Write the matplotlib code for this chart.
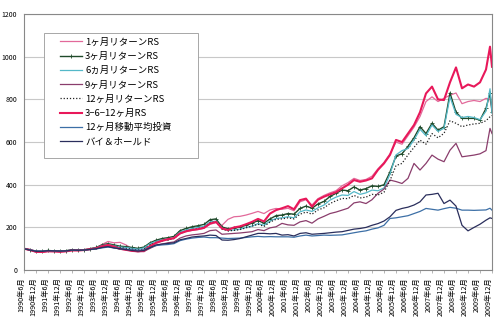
import matplotlib
matplotlib.use('Agg')
import matplotlib.pyplot as plt
import matplotlib.transforms as mtransforms
from matplotlib.patches import Rectangle

plt.rcParams['font.family'] = ['Noto Sans CJK JP', 'DejaVu Sans']

# quarterly observation dates (plus two late points)
dates = ['%d-%02d' % (y, m) for y in range(1990, 2010) for m in (3, 6, 9, 12)]
dates = [d for d in dates if '1990-06' <= d <= '2009-09'] + ['2009-11', '2009-12']

ret1 = [100, 92, 84, 83, 88, 86, 85, 88, 94, 92, 93, 98,
        104, 120, 134, 128, 130, 118, 100, 88, 86, 108, 125, 135,
        142, 148, 170, 180, 186, 190, 196, 215, 222, 210, 238, 250,
        252, 258, 266, 275, 265, 282, 289, 285, 290, 278, 320, 330,
        305, 335, 350, 362, 372, 395, 410, 430, 420, 425, 440, 475,
        505, 545, 600, 590, 630, 670, 720, 790, 812, 790, 805, 820,
        830, 780, 790, 795, 790, 805, 800, 758]
ret3 = [102, 95, 88, 88, 92, 90, 90, 91, 95, 94, 95, 100,
        106, 118, 124, 118, 112, 110, 106, 102, 108, 128, 140, 148,
        152, 158, 185, 195, 203, 208, 214, 236, 240, 202, 194, 196,
        202, 210, 220, 232, 220, 240, 255, 258, 265, 262, 289, 300,
        290, 310, 322, 345, 360, 375, 372, 390, 375, 382, 395, 392,
        400, 460, 535, 545, 580, 620, 672, 640, 688, 656, 672, 830,
        740, 711, 711, 711, 703, 758, 830, 742]
ret6 = [101, 94, 87, 87, 91, 89, 89, 90, 94, 93, 94, 99,
        104, 115, 120, 114, 108, 106, 102, 98, 104, 124, 135, 142,
        146, 152, 178, 188, 195, 200, 205, 226, 230, 196, 186, 188,
        192, 200, 206, 218, 210, 230, 242, 245, 250, 245, 273, 282,
        275, 292, 305, 328, 342, 352, 350, 368, 355, 362, 375, 372,
        385, 450, 540, 560, 570, 610, 660, 630, 680, 650, 665, 812,
        730, 715, 720, 715, 705, 745, 850, 735]
ret9 = [100, 94, 86, 85, 89, 88, 87, 89, 93, 92, 93, 97,
        100, 108, 112, 105, 98, 95, 90, 86, 88, 102, 115, 122,
        128, 132, 150, 160, 165, 168, 172, 185, 188, 168, 170, 172,
        174, 177, 180, 190, 185, 198, 203, 219, 212, 210, 226, 232,
        220, 240, 252, 265, 272, 281, 290, 315, 320, 312, 330, 360,
        380, 422, 415, 406, 430, 500, 469, 500, 539, 520, 508, 562,
        594, 531, 535, 539, 545, 560, 664, 640]
ret12 = [101, 94, 87, 87, 90, 89, 88, 90, 94, 93, 94, 98,
         102, 112, 118, 112, 105, 102, 98, 94, 98, 118, 130, 138,
         142, 148, 172, 182, 190, 195, 200, 222, 226, 192, 184, 186,
         190, 198, 206, 215, 205, 225, 238, 240, 245, 240, 262, 272,
         262, 282, 292, 312, 325, 336, 335, 350, 338, 342, 355, 352,
         365, 420, 490, 500, 540, 575, 609, 590, 640, 620, 641, 700,
         688, 672, 680, 685, 688, 700, 719, 725]
rs3612 = [100, 95, 86, 85, 88, 88, 86, 88, 92, 92, 94, 98,
          102, 112, 118, 110, 100, 95, 90, 88, 92, 112, 128, 138,
          145, 150, 172, 182, 188, 192, 198, 218, 226, 195, 188, 200,
          205, 215, 226, 240, 228, 265, 281, 290, 300, 285, 328, 335,
          297, 330, 344, 355, 365, 383, 400, 422, 414, 420, 430, 470,
          500, 540, 610, 600, 640, 680, 740, 828, 860, 800, 797, 880,
          950, 852, 870, 860, 880, 940, 1047, 953]
ma12 = [100, 95, 90, 89, 91, 90, 89, 90, 93, 93, 94, 96,
        99, 104, 108, 104, 100, 98, 95, 93, 95, 106, 115, 118,
        120, 124, 138, 145, 150, 153, 155, 152, 152, 150, 148, 149,
        150, 153, 156, 158, 156, 157, 156, 156, 156, 154, 160, 164,
        160, 162, 164, 163, 164, 165, 170, 175, 180, 184, 192, 198,
        210, 242, 245, 250, 255, 265, 275, 289, 285, 281, 288, 294,
        290, 281, 281, 280, 281, 282, 290, 281]
buyhold = [100, 94, 88, 88, 91, 90, 89, 90, 94, 93, 94, 97,
           100, 106, 110, 104, 100, 96, 92, 89, 92, 105, 118, 122,
           125, 128, 142, 148, 155, 158, 160, 164, 162, 141, 140, 143,
           148, 156, 164, 172, 172, 170, 172, 164, 166, 160, 172, 175,
           168, 170, 172, 175, 178, 180, 186, 192, 195, 200, 210, 218,
           230, 250, 280, 289, 295, 305, 320, 352, 355, 360, 312, 328,
           300, 210, 184, 200, 215, 234, 245, 242]

tick_labels = ['%d年%d月' % (y, m) for y in range(1990, 2010) for m in (6, 12)]


def month_index(d):
    y, m = d.split('-')
    return (int(y) - 1990) * 12 + int(m) - 6


x = [month_index(d) for d in dates]

fig = plt.figure(figsize=(5, 3.27), dpi=100)
ax = fig.add_axes([0.048, 0.174, 0.936, 0.783])

ax.plot(x, ret1, color='#e2699a', lw=0.9, label='1ヶ月リターンRS')
ax.plot(x, ret3, color='#1f4a2a', lw=1.0, marker='+', ms=2.5, mew=0.6,
        label='3ヶ月リターンRS')
ax.plot(x, ret6, color='#54b8c8', lw=0.9, label='6ヵ月リターンRS')
ax.plot(x, ret9, color='#8a3d6c', lw=0.9, label='9ヶ月リターンRS')
ax.plot(x, ret12, color='#222222', lw=0.9, ls=(0, (1, 1.5)), label='12ヶ月リターンRS')
ax.plot(x, rs3612, color='#e8185a', lw=1.5, label='3−6−12ヶ月RS')
ax.plot(x, ma12, color='#3c6fa6', lw=0.9, label='12ヶ月移動平均投資')
ax.plot(x, buyhold, color='#2a2e5c', lw=0.9, label='バイ＆ホールド')

ax.set_xlim(0, 234)
ax.set_ylim(0, 1200)
ax.set_yticks(range(0, 1201, 200))
ax.tick_params(axis='y', labelsize=5, length=0, pad=5)
ax.set_xticks(range(0, 235, 6))
ax.set_xticklabels(tick_labels, rotation=90, fontsize=5.2)
ax.tick_params(axis='x', length=2, width=0.5, color='#999999', pad=3)
shift = mtransforms.ScaledTranslation(-3 / 100, 0, fig.dpi_scale_trans)
for lbl in ax.get_xticklabels():
    lbl.set_transform(lbl.get_transform() + shift)

ax.grid(axis='y', color='#c8c8c8', lw=0.8)
ax.set_axisbelow(True)
for s in ax.spines.values():
    s.set_color('#888888')
    s.set_linewidth(0.8)

# legend box drawn separately (wide left margin like the original)
box = Rectangle((0.043, 0.4375), 0.329, 0.4885, transform=ax.transAxes,
                facecolor='white', edgecolor='#999999', lw=0.6, zorder=5)
ax.add_patch(box)
leg = ax.legend(loc='upper left', bbox_to_anchor=(0.077, 0.908), fontsize=6.8,
                frameon=False, numpoints=1,
                handlelength=2.35, handletextpad=0.3, labelspacing=0.54,
                borderpad=0, borderaxespad=0)
leg.set_zorder(6)

fig.savefig('out.png', dpi=100)
